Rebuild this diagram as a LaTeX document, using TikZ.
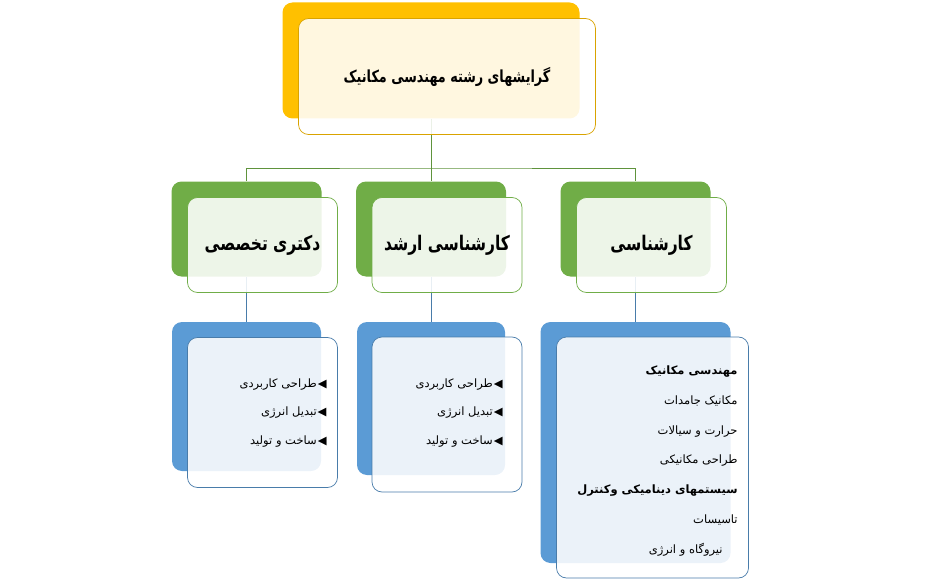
\documentclass[tikz,border=0pt]{standalone}
\usepackage{fontspec}
\usepackage{xcolor}
\usepackage{graphicx}
\usepackage{tikz}
\usetikzlibrary{positioning}
\TeXXeTstate=1
\newfontfamily\arabicfont[Script=Arabic]{DejaVu Sans}
\newcommand{\tallR}[1]{\scalebox{1}[1.3]{\beginR #1\endR}}
\definecolor{col1}{HTML}{FFC000}
\definecolor{col2}{HTML}{70AD47}
\definecolor{col3}{HTML}{5B9BD5}
\colorlet{c1}{col1!85!black}
\colorlet{c2}{col2}
\colorlet{c3}{col3!80!black}

\begin{document}
\begin{tikzpicture}[x=1pt, y=-1pt, line width=0.8pt, font=\arabicfont]
\tikzstyle{back}=[rounded corners=10pt, inner sep=0pt, draw=none]
\tikzstyle{front}=[rounded corners=10pt, inner sep=0pt, fill=white, fill opacity=0.88, text opacity=1, line width=0.7pt, xshift=16pt, yshift=-16pt]
\tikzstyle{headbox}=[minimum width=297pt, minimum height=116pt]
\tikzstyle{levelbox}=[minimum width=150pt, minimum height=95pt]
\tikzstyle{head}=[font=\arabicfont\bfseries\fontsize{12.8}{16}\selectfont]
\tikzstyle{level}=[font=\arabicfont\bfseries\fontsize{15.5}{20}\selectfont]
\tikzstyle{items}=[align=right, inner sep=0pt, font=\arabicfont\fontsize{11.5}{28.5}\selectfont]
\tikzstyle{trunk}=[draw=col2!85!black, line width=0.8pt]
\tikzstyle{branch}=[draw=c3, line width=0.6pt]
\useasboundingbox (0,0) rectangle (950,583);

% back boxes
\node[back, headbox, fill=col1] (titleback) at (431,60.5) {};
\node[back, levelbox, fill=col2] (phdback) at (246.5,229) {};
\node[back, levelbox, fill=col2] (mscback) at (431,229) {};
\node[back, levelbox, fill=col2] (bscback) at (635.5,229) {};
\node[back, fill=col3, minimum width=149pt, minimum height=149pt] (phdlistback) at (246.5,396.5) {};
\node[back, fill=col3, minimum width=148pt, minimum height=153pt] (msclistback) at (431,398.5) {};
\node[back, fill=col3, minimum width=190pt, minimum height=241pt] (bsclistback) at (635.5,442.5) {};

% connectors
\coordinate (hub) at (431,168);
\draw[trunk] (titleback.south) -- (hub);
\draw[trunk] (phdback.north) |- (hub) -| (bscback.north);
\draw[trunk] (hub) -- (mscback.north);
\draw[branch] (phdback.south) -- (phdlistback.north);
\draw[branch] (mscback.south) -- (msclistback.north);
\draw[branch] (bscback.south) -- (bsclistback.north);

% front boxes
\node[front, headbox, draw=c1, head] (title) at (titleback) {\tallR{گرایشهای رشته مهندسی مکانیک}};
\node[front, levelbox, draw=c2, level] (phd) at (phdback) {\tallR{دکتری تخصصی}};
\node[front, levelbox, draw=c2, level] (msc) at (mscback) {\tallR{کارشناسی ارشد}};
\node[front, levelbox, draw=c2, level] (bsc) at (bscback) {\tallR{کارشناسی}};
\node[front, draw=c3, minimum width=150pt, minimum height=150pt] (phdlist) at (phdlistback) {};
\node[front, draw=c3, minimum width=150pt, minimum height=155pt] (msclist) at (msclistback) {};
\node[front, draw=c3, minimum width=192pt, minimum height=241pt, xshift=1pt, yshift=1pt] (bsclist) at (bsclistback) {};

% list texts
\node[items, anchor=east] (phditems) at (327,413) {\beginR ◀\kern1pt طراحی کاربردی\endR\\ \beginR ◀\kern1pt تبدیل انرژی\endR\\ \beginR ◀\kern1pt ساخت و تولید\endR};
\node[items, anchor=east] (mscitems) at (503,413) {\beginR ◀\kern1pt طراحی کاربردی\endR\\ \beginR ◀\kern1pt تبدیل انرژی\endR\\ \beginR ◀\kern1pt ساخت و تولید\endR};
\node[items, anchor=east, font=\arabicfont\fontsize{11.5}{29.7}\selectfont] (bscitems) at (738,461) {\beginR\textbf{مهندسی مکانیک}\endR\\
 \beginR مکانیک جامدات\endR\hspace*{25pt}\\
 \beginR حرارت و سیالات\endR\hspace*{26pt}\\
 \beginR طراحی مکانیکی\endR\hspace*{27pt}\\
 \beginR\textbf{سیستمهای دینامیکی وکنترل}\endR\hspace*{4pt}\\
 \beginR تاسیسات\endR\hspace*{13pt}\\
 \beginR نیروگاه و انرژی\endR\hspace*{15pt}};
\end{tikzpicture}
\end{document}
